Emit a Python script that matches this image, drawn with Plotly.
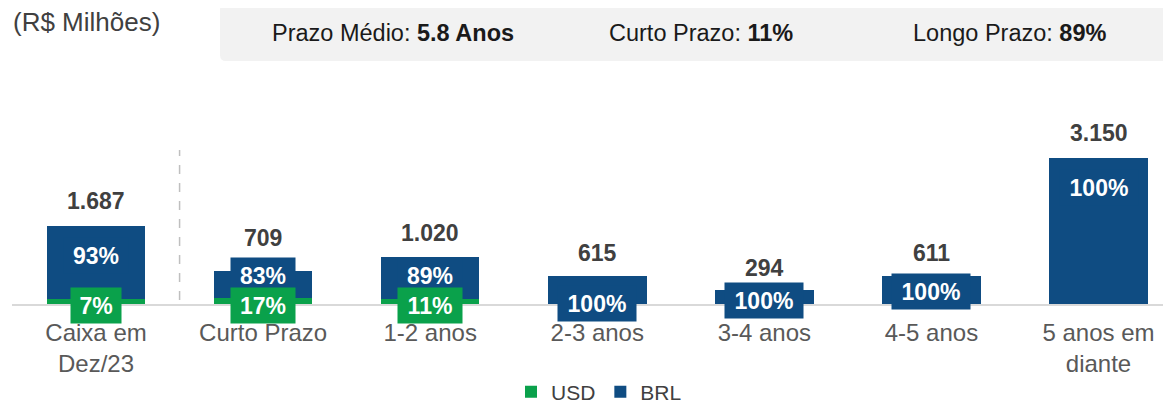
import plotly.graph_objects as go

# ---- data ----
categories = ["Caixa em<br>Dez/23", "Curto Prazo", "1-2 anos", "2-3 anos",
              "3-4 anos", "4-5 anos", "5 anos em<br>diante"]
totals = [1687, 709, 1020, 615, 294, 611, 3150]
usd_pct = [7, 17, 11, 0, 0, 0, 0]
brl_pct = [93, 83, 89, 100, 100, 100, 100]
header_items = [("Prazo Médio: ", "5.8 Anos"), ("Curto Prazo: ", "11%"), ("Longo Prazo: ", "89%")]
unit_label = "(R$ Milhões)"

usd_vals = [t * p / 100 for t, p in zip(totals, usd_pct)]
brl_vals = [t - u for t, u in zip(totals, usd_vals)]

# ---- styles / positions ----
C_USD = "#0AA14B"
C_BRL = "#0F4C82"
C_TOTAL = "#404040"
C_TICK = "#595959"
FONT = "Liberation Sans, Arial, sans-serif"
OFF = 8                      # page body margin
W, H = 1171 - 2 * OFF, 405 - OFF
PL, PT, PB = 12, 70, 304     # plot area edges in page pixels
PR = OFF + W
L, T = PL - OFF, PT - OFF
B = H - (PB - OFF)
PW, PH = PR - PL, PB - PT
total_shift = [25, 33, 24, 23, 22, 23, 25]
brl_shift = [49, 29, 29, 1, 4, 13, 117]

def px_x(px):
    return (px - PL) / PW

def px_y(py):
    return (PB - py) / PH

fig = go.Figure()
fig.add_trace(go.Bar(x=list(range(len(categories))), y=usd_vals, name="USD",
                     marker=dict(color=C_USD, line=dict(width=0)), width=0.59,
                     hoverinfo="skip"))
fig.add_trace(go.Bar(x=list(range(len(categories))), y=brl_vals, name="BRL",
                     marker=dict(color=C_BRL, line=dict(width=0)), width=0.59,
                     hoverinfo="skip"))

ann = []
for i, t in enumerate(totals):
    ann.append(dict(x=i, y=t, xref="x", yref="y", text=f"<b>{t:,}</b>".replace(",", "."),
                    showarrow=False, yanchor="middle", yshift=total_shift[i],
                    font=dict(family=FONT, size=23, color=C_TOTAL)))
    if brl_pct[i] > 0:
        txt = f"{brl_pct[i]}%"
        ann.append(dict(x=i, y=0, xref="x", yref="y", text=f"<b>{txt}</b>",
                        showarrow=False, yanchor="middle", yshift=brl_shift[i],
                        bgcolor=C_BRL, width=16 + 14 * len(txt), height=29, borderpad=3,
                        font=dict(family=FONT, size=23, color="white")))
    if usd_pct[i] > 0:
        txt = f"{usd_pct[i]}%"
        ann.append(dict(x=i, y=0, xref="x", yref="y", text=f"<b>{txt}</b>",
                        showarrow=False, yanchor="middle", yshift=-1,
                        bgcolor=C_USD, width=16 + 14 * len(txt), height=29, borderpad=3,
                        font=dict(family=FONT, size=23, color="white")))

# header
ann.append(dict(x=px_x(11), y=px_y(22), xref="paper", yref="paper", text=unit_label,
                showarrow=False, xanchor="left", yanchor="middle",
                font=dict(family=FONT, size=26, color=C_TOTAL)))
for (lab, val), cx in zip(header_items, [393, 701, 1009]):
    ann.append(dict(x=px_x(cx), y=px_y(33), xref="paper", yref="paper",
                    text=f"{lab}<b>{val}</b>", showarrow=False,
                    xanchor="center", yanchor="middle",
                    font=dict(family=FONT, size=23.5, color="#1a1a1a")))

# rounded header box
x0, x1, y0, y1 = px_x(220), px_x(1168), px_y(61), px_y(4)
rx, ry = 6 / PW, 6 / PH
path = (f"M {x0+rx},{y0} L {x1-rx},{y0} Q {x1},{y0} {x1},{y0+ry} L {x1},{y1-ry} "
        f"Q {x1},{y1} {x1-rx},{y1} L {x0+rx},{y1} Q {x0},{y1} {x0},{y1-ry} "
        f"L {x0},{y0+ry} Q {x0},{y0} {x0+rx},{y0} Z")
shapes = [
    dict(type="path", path=path, xref="paper", yref="paper", fillcolor="#F2F2F2",
         line=dict(width=0), layer="below"),
    dict(type="line", x0=0.5, x1=0.5, y0=px_y(300), y1=px_y(150), xref="x", yref="paper",
         line=dict(color="#BFBFBF", width=1.5, dash="dash")),
]

fig.update_layout(
    width=W, height=H, barmode="stack", bargap=0,
    margin=dict(l=L, r=0, t=T, b=B, autoexpand=False),
    plot_bgcolor="white", paper_bgcolor="white",
    font=dict(family=FONT, color=C_TICK),
    annotations=ann, shapes=shapes,
    showlegend=True,
    legend=dict(orientation="h", x=px_x(599), xanchor="center", y=px_y(392), yanchor="middle",
                font=dict(family=FONT, size=21, color=C_TOTAL), itemwidth=30,
                traceorder="normal", bgcolor="rgba(0,0,0,0)"),
    xaxis=dict(range=[-0.503, 6.386], tickmode="array", tickvals=list(range(len(categories))),
               ticktext=categories, showgrid=False, zeroline=False,
               showline=True, linecolor="#D9D9D9", linewidth=1.5,
               tickfont=dict(family=FONT, size=24, color=C_TICK), ticks="",
               ticklabelstandoff=6, fixedrange=True),
    yaxis=dict(range=[0, PH / (146 / 3150)], visible=False, fixedrange=True),
)

fig.write_html("out.html")
